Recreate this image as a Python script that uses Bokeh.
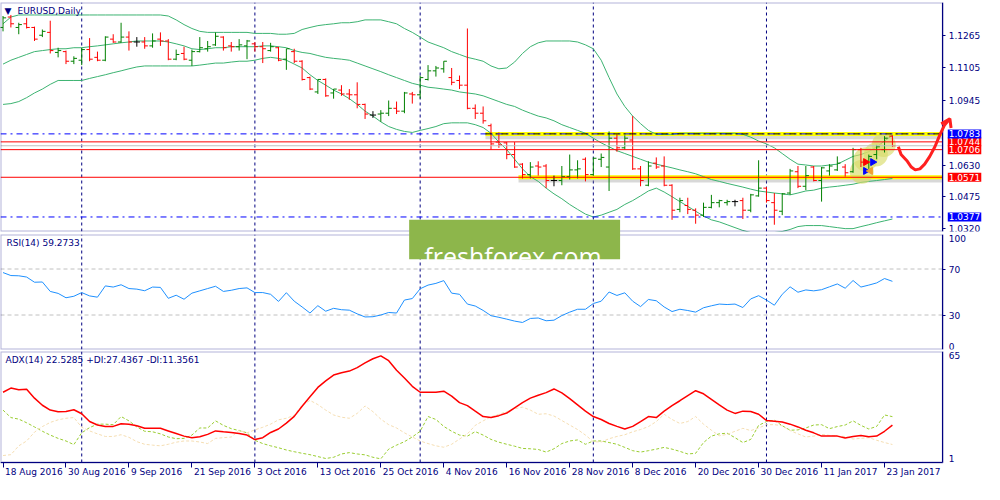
import numpy as np
from bokeh.plotting import figure
from bokeh.layouts import column
from bokeh.models import (ColumnDataSource, FixedTicker, PrintfTickFormatter, Label, Range1d,
                          LinearAxis, BoxAnnotation)
from bokeh.embed import file_html
from bokeh.resources import INLINE
from bokeh.core.properties import value

# ---------------- texts ----------------
symbol_title = "EURUSD,Daily"
rsi_title = "RSI(14) 59.2733"
adx_title = "ADX(14) 22.5285 +DI:27.4367 -DI:11.3561"
watermark = "freshforex.com"

# ---------------- axes ----------------
date_labels = ["18 Aug 2016", "30 Aug 2016", "9 Sep 2016", "21 Sep 2016", "3 Oct 2016",
               "13 Oct 2016", "25 Oct 2016", "4 Nov 2016", "16 Nov 2016", "28 Nov 2016",
               "8 Dec 2016", "20 Dec 2016", "30 Dec 2016", "11 Jan 2017", "23 Jan 2017"]
date_tick_idx = [0, 8, 16, 24, 32, 40, 48, 56, 64, 72, 80, 88, 96, 104, 112]
grid_idx = [10, 32, 53, 75, 97]
price_ticks = [1.1265, 1.1105, 1.0945, 1.0630, 1.0475, 1.0320]
rsi_ticks = [70, 30]
rsi_bounds = [0, 100]
adx_bounds = [1, 65]

# ---------------- OHLC (daily EURUSD) ----------------
open_p = [1.1303, 1.1354, 1.1303, 1.1321, 1.1303, 1.1265, 1.1279, 1.1181, 1.1185, 1.1138,
          1.1143, 1.1195, 1.1157, 1.1143, 1.1246, 1.1232, 1.1256, 1.1232, 1.1232, 1.1213,
          1.1246, 1.1237, 1.1148, 1.1176, 1.1143, 1.1185, 1.1199, 1.1218, 1.1256, 1.1213,
          1.1209, 1.1213, 1.1223, 1.1209, 1.1190, 1.1204, 1.1148, 1.1185, 1.1138, 1.1058,
          1.0988, 1.1049, 1.0983, 1.0997, 1.0978, 1.0974, 1.0927, 1.0875, 1.0880, 1.0884,
          1.0908, 1.0894, 1.0978, 1.0974, 1.1049, 1.1091, 1.1101, 1.1058, 1.1044, 1.1021,
          1.0908, 1.0884, 1.0823, 1.0743, 1.0739, 1.0682, 1.0635, 1.0584, 1.0626, 1.0626,
          1.0555, 1.0555, 1.0574, 1.0607, 1.0659, 1.0584, 1.0659, 1.0621, 1.0762, 1.0715,
          1.0753, 1.0612, 1.0532, 1.0640, 1.0626, 1.0532, 1.0414, 1.0433, 1.0410, 1.0386,
          1.0424, 1.0447, 1.0447, 1.0452, 1.0457, 1.0410, 1.0480, 1.0518, 1.0447, 1.0405,
          1.0494, 1.0598, 1.0527, 1.0621, 1.0555, 1.0602, 1.0607, 1.0621, 1.0598, 1.0706,
          1.0645, 1.0682, 1.0706, 1.0772]
high_p = [1.1359, 1.1364, 1.1326, 1.1350, 1.1307, 1.1293, 1.1336, 1.1204, 1.1190, 1.1162,
          1.1204, 1.1251, 1.1185, 1.1260, 1.1270, 1.1326, 1.1284, 1.1256, 1.1256, 1.1274,
          1.1279, 1.1246, 1.1195, 1.1209, 1.1195, 1.1256, 1.1237, 1.1279, 1.1260, 1.1232,
          1.1246, 1.1242, 1.1232, 1.1232, 1.1228, 1.1209, 1.1199, 1.1199, 1.1143, 1.1063,
          1.1049, 1.1054, 1.1002, 1.1021, 1.1002, 1.1035, 1.0931, 1.0894, 1.0899, 1.0946,
          1.0941, 1.0988, 1.0988, 1.1068, 1.1119, 1.1115, 1.1138, 1.1105, 1.1068, 1.1298,
          1.0927, 1.0917, 1.0833, 1.0790, 1.0743, 1.0743, 1.0640, 1.0645, 1.0649, 1.0635,
          1.0579, 1.0626, 1.0682, 1.0654, 1.0668, 1.0668, 1.0687, 1.0795, 1.0781, 1.0776,
          1.0870, 1.0626, 1.0649, 1.0668, 1.0673, 1.0537, 1.0471, 1.0471, 1.0419, 1.0447,
          1.0485, 1.0461, 1.0461, 1.0461, 1.0471, 1.0490, 1.0654, 1.0523, 1.0494, 1.0494,
          1.0612, 1.0626, 1.0626, 1.0626, 1.0621, 1.0635, 1.0673, 1.0635, 1.0715, 1.0715,
          1.0682, 1.0729, 1.0772, 1.0776]
low_p = [1.1284, 1.1303, 1.1270, 1.1298, 1.1237, 1.1256, 1.1176, 1.1157, 1.1124, 1.1124,
         1.1119, 1.1138, 1.1138, 1.1138, 1.1228, 1.1228, 1.1190, 1.1209, 1.1199, 1.1204,
         1.1213, 1.1143, 1.1143, 1.1143, 1.1115, 1.1181, 1.1185, 1.1213, 1.1190, 1.1185,
         1.1190, 1.1148, 1.1185, 1.1129, 1.1185, 1.1138, 1.1096, 1.1129, 1.1044, 1.0997,
         1.0978, 1.0964, 1.0955, 1.0969, 1.0950, 1.0908, 1.0856, 1.0861, 1.0842, 1.0870,
         1.0880, 1.0884, 1.0931, 1.0955, 1.1044, 1.1063, 1.1082, 1.1021, 1.1002, 1.0903,
         1.0856, 1.0833, 1.0706, 1.0715, 1.0659, 1.0617, 1.0565, 1.0565, 1.0579, 1.0518,
         1.0527, 1.0532, 1.0560, 1.0565, 1.0551, 1.0579, 1.0621, 1.0504, 1.0696, 1.0706,
         1.0607, 1.0527, 1.0527, 1.0612, 1.0527, 1.0363, 1.0400, 1.0391, 1.0344, 1.0377,
         1.0419, 1.0424, 1.0433, 1.0429, 1.0367, 1.0400, 1.0476, 1.0447, 1.0339, 1.0386,
         1.0485, 1.0518, 1.0508, 1.0551, 1.0452, 1.0579, 1.0602, 1.0574, 1.0593, 1.0621,
         1.0612, 1.0659, 1.0692, 1.0720]
close_p = [1.1350, 1.1321, 1.1317, 1.1303, 1.1246, 1.1284, 1.1190, 1.1190, 1.1138, 1.1152,
           1.1195, 1.1148, 1.1143, 1.1256, 1.1232, 1.1256, 1.1232, 1.1232, 1.1213, 1.1237,
           1.1237, 1.1148, 1.1171, 1.1148, 1.1185, 1.1204, 1.1209, 1.1260, 1.1204, 1.1209,
           1.1218, 1.1237, 1.1209, 1.1199, 1.1209, 1.1143, 1.1199, 1.1138, 1.1049, 1.1002,
           1.1049, 1.0969, 1.1002, 1.0978, 1.0974, 1.0927, 1.0880, 1.0875, 1.0884, 1.0908,
           1.0894, 1.0983, 1.0974, 1.1058, 1.1091, 1.1105, 1.1138, 1.1035, 1.1021, 1.0908,
           1.0884, 1.0847, 1.0734, 1.0729, 1.0682, 1.0621, 1.0584, 1.0621, 1.0621, 1.0555,
           1.0555, 1.0574, 1.0607, 1.0612, 1.0584, 1.0664, 1.0668, 1.0762, 1.0715, 1.0762,
           1.0612, 1.0555, 1.0626, 1.0621, 1.0532, 1.0410, 1.0457, 1.0414, 1.0386, 1.0424,
           1.0447, 1.0457, 1.0452, 1.0452, 1.0410, 1.0485, 1.0518, 1.0457, 1.0410, 1.0490,
           1.0602, 1.0527, 1.0579, 1.0555, 1.0617, 1.0626, 1.0640, 1.0593, 1.0706, 1.0645,
           1.0673, 1.0720, 1.0762, 1.0725]

# ---------------- Bollinger bands ----------------
bb_upper = [1.1321, 1.1354, 1.1364, 1.1364, 1.1364, 1.1364, 1.1364, 1.1364, 1.1364, 1.1364,
            1.1364, 1.1364, 1.1364, 1.1364, 1.1364, 1.1364, 1.1364, 1.1364, 1.1364, 1.1364,
            1.1364, 1.1359, 1.1340, 1.1317, 1.1298, 1.1284, 1.1279, 1.1279, 1.1279, 1.1279,
            1.1279, 1.1279, 1.1274, 1.1274, 1.1274, 1.1270, 1.1270, 1.1274, 1.1293, 1.1303,
            1.1312, 1.1317, 1.1321, 1.1326, 1.1326, 1.1331, 1.1340, 1.1340, 1.1340, 1.1331,
            1.1321, 1.1298, 1.1279, 1.1256, 1.1232, 1.1218, 1.1204, 1.1185, 1.1171, 1.1157,
            1.1148, 1.1138, 1.1115, 1.1101, 1.1105, 1.1134, 1.1176, 1.1209, 1.1228, 1.1237,
            1.1237, 1.1237, 1.1237, 1.1232, 1.1218, 1.1199, 1.1143, 1.1058, 1.0978, 1.0917,
            1.0870, 1.0833, 1.0800, 1.0781, 1.0781, 1.0781, 1.0786, 1.0786, 1.0786, 1.0786,
            1.0786, 1.0786, 1.0786, 1.0786, 1.0781, 1.0767, 1.0748, 1.0734, 1.0715, 1.0687,
            1.0659, 1.0635, 1.0631, 1.0626, 1.0626, 1.0631, 1.0635, 1.0654, 1.0673, 1.0682,
            1.0696, 1.0720, 1.0748, 1.0776]
bb_middle = [1.1124, 1.1143, 1.1157, 1.1171, 1.1185, 1.1190, 1.1195, 1.1199, 1.1199, 1.1204,
             1.1204, 1.1209, 1.1213, 1.1218, 1.1223, 1.1228, 1.1232, 1.1237, 1.1237, 1.1237,
             1.1237, 1.1232, 1.1223, 1.1213, 1.1199, 1.1195, 1.1199, 1.1204, 1.1204, 1.1209,
             1.1209, 1.1209, 1.1209, 1.1213, 1.1213, 1.1209, 1.1204, 1.1190, 1.1181, 1.1176,
             1.1166, 1.1157, 1.1152, 1.1148, 1.1143, 1.1129, 1.1115, 1.1101, 1.1087, 1.1072,
             1.1058, 1.1044, 1.1030, 1.1021, 1.1011, 1.1007, 1.1002, 1.0997, 1.0988, 1.0983,
             1.0978, 1.0969, 1.0955, 1.0941, 1.0927, 1.0917, 1.0899, 1.0884, 1.0870, 1.0861,
             1.0847, 1.0828, 1.0814, 1.0800, 1.0786, 1.0762, 1.0739, 1.0720, 1.0701, 1.0687,
             1.0673, 1.0659, 1.0645, 1.0635, 1.0626, 1.0617, 1.0607, 1.0598, 1.0588, 1.0574,
             1.0560, 1.0551, 1.0541, 1.0532, 1.0523, 1.0513, 1.0504, 1.0499, 1.0494, 1.0490,
             1.0485, 1.0494, 1.0504, 1.0508, 1.0518, 1.0523, 1.0527, 1.0532, 1.0537, 1.0546,
             1.0551, 1.0555, 1.0560, 1.0565]
bb_lower = [1.0927, 1.0931, 1.0941, 1.0960, 1.0983, 1.1002, 1.1025, 1.1044, 1.1044, 1.1044,
            1.1044, 1.1054, 1.1063, 1.1072, 1.1082, 1.1091, 1.1101, 1.1110, 1.1115, 1.1115,
            1.1115, 1.1115, 1.1115, 1.1115, 1.1115, 1.1119, 1.1124, 1.1129, 1.1129, 1.1134,
            1.1138, 1.1138, 1.1143, 1.1152, 1.1157, 1.1152, 1.1143, 1.1124, 1.1105, 1.1072,
            1.1044, 1.1021, 1.0997, 1.0978, 1.0955, 1.0927, 1.0894, 1.0870, 1.0842, 1.0819,
            1.0805, 1.0795, 1.0790, 1.0800, 1.0809, 1.0819, 1.0833, 1.0837, 1.0837, 1.0837,
            1.0828, 1.0814, 1.0786, 1.0743, 1.0706, 1.0659, 1.0612, 1.0574, 1.0551, 1.0518,
            1.0490, 1.0466, 1.0438, 1.0414, 1.0391, 1.0377, 1.0386, 1.0400, 1.0414, 1.0438,
            1.0457, 1.0480, 1.0504, 1.0518, 1.0499, 1.0476, 1.0452, 1.0429, 1.0405, 1.0382,
            1.0363, 1.0353, 1.0339, 1.0325, 1.0311, 1.0301, 1.0296, 1.0296, 1.0301, 1.0306,
            1.0316, 1.0330, 1.0335, 1.0335, 1.0335, 1.0330, 1.0325, 1.0320, 1.0320, 1.0330,
            1.0339, 1.0349, 1.0358, 1.0367]

# ---------------- RSI(14) ----------------
rsi = [66.9, 64.3, 64.1, 63.0, 58.5, 58.7, 50.5, 48.8, 45.0, 46.3,
       49.5, 46.6, 45.5, 55.3, 54.3, 56.3, 53.0, 52.5, 51.1, 54.3,
       54.0, 44.5, 47.2, 43.7, 49.0, 51.0, 53.0, 55.0, 50.5, 51.5,
       53.0, 53.6, 49.5, 49.5, 48.0, 41.8, 49.4, 42.0, 37.0, 31.7,
       38.1, 33.3, 35.8, 34.6, 34.2, 31.0, 28.3, 28.5, 30.0, 32.2,
       31.7, 43.0, 44.3, 52.8, 56.0, 57.5, 59.9, 49.0, 48.0, 39.5,
       37.8, 34.0, 29.4, 28.0, 26.4, 24.7, 23.5, 27.0, 27.4, 25.0,
       25.5, 29.5, 32.5, 35.0, 35.0, 40.0, 42.0, 50.0, 47.0, 49.3,
       42.0, 37.3, 43.5, 42.4, 37.0, 33.0, 35.0, 33.9, 32.5, 36.3,
       38.0, 39.5, 39.1, 39.5, 36.5, 44.0, 46.8, 43.0, 38.5, 48.0,
       54.5, 49.8, 51.8, 51.0, 52.0, 54.5, 57.0, 53.3, 60.0, 54.3,
       56.0, 57.9, 61.7, 59.27]

# ---------------- ADX(14) ----------------
adx = [41.5, 43.9, 43.0, 43.2, 38.1, 34.0, 31.2, 30.3, 30.4, 31.4,
       29.1, 24.6, 22.6, 21.8, 21.8, 23.3, 23.1, 22.2, 20.7, 20.7,
       20.7, 19.2, 17.7, 16.2, 15.3, 15.8, 17.2, 19.2, 18.7, 18.3,
       17.7, 16.8, 14.2, 15.3, 18.3, 20.3, 23.7, 27.6, 33.4, 38.9,
       44.3, 48.1, 51.4, 52.7, 53.7, 55.7, 58.4, 60.8, 62.5, 59.7,
       54.2, 49.7, 44.9, 41.5, 41.5, 41.5, 42.1, 39.3, 35.5, 33.8,
       30.6, 27.5, 26.9, 28.0, 29.5, 32.5, 35.5, 38.1, 39.8, 41.3,
       43.4, 41.1, 37.8, 34.2, 30.6, 27.5, 25.8, 23.5, 21.8, 20.3,
       21.8, 24.6, 27.5, 26.9, 30.6, 33.8, 36.6, 39.6, 42.4, 40.6,
       37.4, 34.2, 31.2, 29.3, 30.6, 30.4, 28.8, 25.2, 24.8, 24.3,
       23.1, 21.5, 19.6, 18.1, 16.2, 16.2, 16.2, 15.1, 16.0, 16.6,
       15.8, 16.2, 19.0, 22.53]
plus_di = [31.2, 26.9, 26.0, 23.9, 21.5, 19.0, 16.8, 14.9, 13.4, 11.3,
           18.1, 21.1, 23.1, 23.1, 22.8, 27.5, 25.0, 21.5, 19.0, 18.7,
           17.5, 15.7, 14.7, 14.9, 16.8, 20.9, 20.9, 25.0, 22.4, 20.5,
           19.4, 18.1, 13.8, 11.9, 10.6, 9.5, 8.2, 7.2, 6.3, 5.5,
           4.4, 3.3, 4.0, 5.9, 6.7, 5.9, 5.4, 4.0, 3.1, 8.7,
           11.0, 13.0, 15.7, 19.0, 27.5, 25.8, 21.8, 19.0, 16.8, 16.2,
           18.8, 16.8, 14.3, 12.7, 11.5, 10.4, 9.1, 8.9, 8.5, 7.0,
           8.9, 11.9, 13.4, 14.0, 11.5, 13.4, 13.4, 12.5, 11.5, 9.7,
           7.8, 7.0, 7.8, 8.7, 9.7, 8.7, 7.4, 5.9, 6.3, 12.5,
           16.2, 17.5, 17.9, 15.3, 12.5, 14.3, 22.4, 24.6, 25.4, 22.2,
           19.6, 19.8, 20.9, 22.6, 22.8, 20.5, 21.7, 22.6, 25.0, 22.4,
           20.3, 21.8, 28.4, 27.44]
minus_di = [5.0, 5.5, 10.6, 13.4, 18.5, 21.7, 24.1, 25.6, 26.5, 26.9,
            21.3, 19.2, 17.5, 16.0, 16.0, 17.0, 15.5, 13.0, 11.5, 11.0,
            10.6, 11.5, 12.7, 13.4, 13.4, 12.8, 11.9, 14.9, 15.3, 15.7,
            19.6, 18.1, 19.8, 21.3, 23.1, 25.6, 26.5, 28.2, 34.0, 36.8,
            34.4, 31.2, 28.4, 27.1, 26.5, 29.3, 33.6, 30.3, 26.0, 22.8,
            20.9, 18.1, 15.7, 13.4, 11.9, 10.6, 9.8, 11.5, 14.5, 17.5,
            22.4, 25.0, 27.3, 28.8, 30.3, 32.0, 32.9, 31.2, 28.8, 29.1,
            27.8, 25.2, 22.6, 20.0, 16.8, 13.0, 12.8, 14.7, 16.0, 17.0,
            18.7, 20.0, 21.7, 24.6, 28.8, 25.8, 23.5, 24.6, 27.5, 23.1,
            19.6, 16.4, 17.2, 19.0, 20.7, 19.4, 20.9, 22.8, 22.8, 22.2,
            19.4, 17.5, 15.7, 16.2, 17.2, 16.6, 16.2, 16.0, 14.5, 14.9,
            15.3, 13.8, 12.5, 11.36]

# ---------------- drawn objects ----------------
level_prices = [1.0744, 1.0706, 1.0571, 1.0783, 1.0377]
level_colors = ["#ff0000", "#ff0000", "#ff0000", "#0000ff", "#0000ff"]
level_dashes = ["solid", "solid", "solid", "dashdot", "dashdot"]
label_order = [0, 3, 1, 2, 4]
highlight_prices = [1.0783, 1.0571]
highlight_start_idx = [61.3, 65.5]
forecast_idx = [113.75, 114.1, 114.9, 115.4, 115.9, 116.5, 117.1, 117.75, 118.4, 119.0, 119.6, 120.3]
forecast_price = [1.0720, 1.0682, 1.0649, 1.0621, 1.0607, 1.0612, 1.0635, 1.0673, 1.0720, 1.0776, 1.0825, 1.0857]
arrowhead_idx = [119.2, 120.3, 120.45]
arrowhead_price = [1.0832, 1.0857, 1.0812]
blob_idx = [109.1, 109.6, 110.9, 111.9]
blob_price = [1.0598, 1.0659, 1.0682, 1.0729]
trade_idx = [109.6, 110.5, 109.6, 110.2]
trade_price = [1.0645, 1.0645, 1.0602, 1.0602]
trade_color = ["#ff0000", "#0000ff", "#0000ff", "#f0a030"]
trade_angle = [-1.5708, -1.5708, -1.5708, 1.5708]

NAVY = "#000080"
FONT = "DejaVu Sans"
X_START, AXIS_X, X_END = -0.32, 119.4, 124.7

idx = np.arange(len(close_p))
bar_col = ["#008000" if c > o else ("#ff0000" if c < o else "#000000") for o, c in zip(open_p, close_p)]
bars = ColumnDataSource(dict(x=idx, xl=idx - 0.4, xr=idx + 0.4, o=open_p, h=high_p,
                             l=low_p, c=close_p, col=bar_col))

xr = Range1d(X_START, X_END)


def make_fig(h, yr, top, bottom, y_lo, y_hi, ticks, fmt=None):
    p = figure(width=984, height=h, x_range=xr, y_range=yr, output_backend="svg",
               toolbar_location=None, x_axis_location=None, y_axis_location=None,
               min_border_left=0, min_border_right=0, min_border_top=top,
               min_border_bottom=bottom, outline_line_color=None,
               background_fill_color="white", border_fill_color="white")
    p.grid.visible = False
    ya = LinearAxis(fixed_location=AXIS_X, ticker=FixedTicker(ticks=ticks), bounds=(y_lo, y_hi))
    if fmt:
        ya.formatter = PrintfTickFormatter(format=fmt)
    ya.axis_line_color = NAVY
    ya.major_tick_line_color = NAVY
    ya.minor_tick_line_color = None
    ya.major_tick_in = 0
    ya.major_tick_out = 3
    ya.major_label_standoff = 3
    ya.major_label_text_color = NAVY
    ya.major_label_text_font = FONT
    ya.major_label_text_font_size = "9px"
    p.add_layout(ya, "right")
    p.add_layout(BoxAnnotation(right=AXIS_X, bottom=y_lo, fill_alpha=0, line_color=NAVY,
                               line_width=2, level="guide"))
    p.segment(x0=grid_idx, y0=[y_lo] * len(grid_idx), x1=grid_idx, y1=[y_hi] * len(grid_idx),
              line_color=NAVY, line_dash="3 3", line_width=1)
    return p


def hline(p, y, color, dash="solid", width=1, x0=X_START, **kw):
    p.segment(x0=[x0], y0=[y], x1=[AXIS_X], y1=[y], line_color=color, line_dash=dash,
              line_width=width, **kw)


def side_label(p, y, text, baseline, bg=None, color=NAVY):
    kw = dict(background_fill_color=bg, padding=1) if bg else {}
    p.add_layout(Label(x=AXIS_X, y=y, x_offset=5 if bg else 6, text=text, text_align="left",
                       text_baseline=baseline, text_color=color, text_font=FONT,
                       text_font_size="9px", **kw))


def header(p, y, text, xoff):
    p.add_layout(Label(x=X_START, y=y, x_offset=xoff, y_offset=-3, text=text,
                       text_align="left", text_baseline="top", text_color=NAVY,
                       text_font=FONT, text_font_size="9px"))


# ================= main price panel =================
PRICE_LO, PRICE_HI = 1.0306, 1.1425
p1 = make_fig(234, Range1d(PRICE_LO, PRICE_HI), 2, 3, PRICE_LO, PRICE_HI, price_ticks, "%.4f")

# yellow highlight of key levels (with soft shadow)
for x0, lv in zip(highlight_start_idx, highlight_prices):
    hline(p1, lv - 0.0009, "#909090", width=7, x0=x0, line_alpha=0.35)
    hline(p1, lv, "#ffff00", width=4, x0=x0)

for band in (bb_upper, bb_middle, bb_lower):
    p1.line(idx, band, line_color="#3cb371", line_width=1)

p1.scatter(blob_idx, blob_price, size=24, fill_color="#d9dc6a", fill_alpha=0.65, line_color=None)

p1.segment("x", "h", "x", "l", source=bars, line_color="col", line_width=1)
p1.segment("xl", "o", "x", "o", source=bars, line_color="col", line_width=1)
p1.segment("x", "c", "xr", "c", source=bars, line_color="col", line_width=1)

p1.scatter(trade_idx, trade_price, marker="triangle", size=7, angle=trade_angle,
           fill_color=trade_color, line_color=trade_color)

for lv, col, dash in zip(level_prices, level_colors, level_dashes):
    hline(p1, lv, col, dash)
# bid line
hline(p1, close_p[-1], "#c0c0c0")
hline(p1, highlight_prices[0], "#000000", "dashdot", x0=highlight_start_idx[0])

# watermark box (upper part)
p1.quad(left=[51.6], right=[78.4], bottom=[1.0200], top=[1.0363], fill_color="#8db64b",
        line_color=None, level="overlay")

# forecast arrow
p1.line(forecast_idx, forecast_price, line_color="#ff2020", line_width=3, level="overlay")
p1.line(arrowhead_idx, arrowhead_price, line_color="#ff2020", line_width=3, level="overlay")

for k in label_order:
    side_label(p1, level_prices[k], "%.4f" % level_prices[k], "middle",
               bg=level_colors[k], color="white")

header(p1, PRICE_HI, "\u25bc", 4)
header(p1, PRICE_HI, symbol_title, 17)

# ================= RSI panel =================
p2 = make_fig(116, Range1d(rsi_bounds[0], rsi_bounds[1]), 0, 1, rsi_bounds[0], rsi_bounds[1], rsi_ticks)
for lv in rsi_ticks:
    hline(p2, lv, "#c0c0c0", "4 3")
p2.line(idx, rsi, line_color="#1e90ff", line_width=1)
side_label(p2, rsi_bounds[1], "100", "top")
side_label(p2, rsi_bounds[0], "0", "bottom")
header(p2, rsi_bounds[1], rsi_title, 6)

p2.quad(left=[51.6], right=[78.4], bottom=[78.5], top=[110], fill_color="#8db64b",
        line_color=None, level="overlay")
p2.text(x=[64.8], y=[81.3], text=[watermark], text_color="white", text_align="center",
        text_baseline="alphabetic", text_font=value("Open Sans"), text_font_size="25px",
        level="overlay")

# ================= ADX panel (frame also holds the date strip) =================
ADX_LO = -11.7
p3 = make_fig(134, Range1d(ADX_LO, adx_bounds[1]), 1, 0, adx_bounds[0], adx_bounds[1], [])
p3.line(idx, plus_di, line_color="#9acd32", line_dash="3 2", line_width=1)
p3.line(idx, minus_di, line_color="#f5deb3", line_dash="3 2", line_width=1)
p3.line(idx, adx, line_color="#ff0000", line_width=1.5)
side_label(p3, adx_bounds[1], "65", "top")
side_label(p3, adx_bounds[0], "1", "bottom")
header(p3, adx_bounds[1], adx_title, 5)

xa = LinearAxis(fixed_location=adx_bounds[0], ticker=FixedTicker(ticks=date_tick_idx),
                bounds=(X_START, AXIS_X))
xa.major_label_overrides = {t: "" for t in date_tick_idx}
xa.axis_line_color = NAVY
xa.major_tick_line_color = NAVY
xa.minor_tick_line_color = None
xa.major_tick_in = 0
xa.major_tick_out = 5
p3.add_layout(xa, "below")
for t, lab in zip(date_tick_idx, date_labels):
    p3.add_layout(Label(x=t, y=adx_bounds[0], x_offset=2, y_offset=-5, text=lab,
                        text_align="left", text_baseline="top", text_color=NAVY,
                        text_font=FONT, text_font_size="9px"))

layout = column(p1, p2, p3, spacing=0)
open("out.html", "w").write(file_html(layout, INLINE))
